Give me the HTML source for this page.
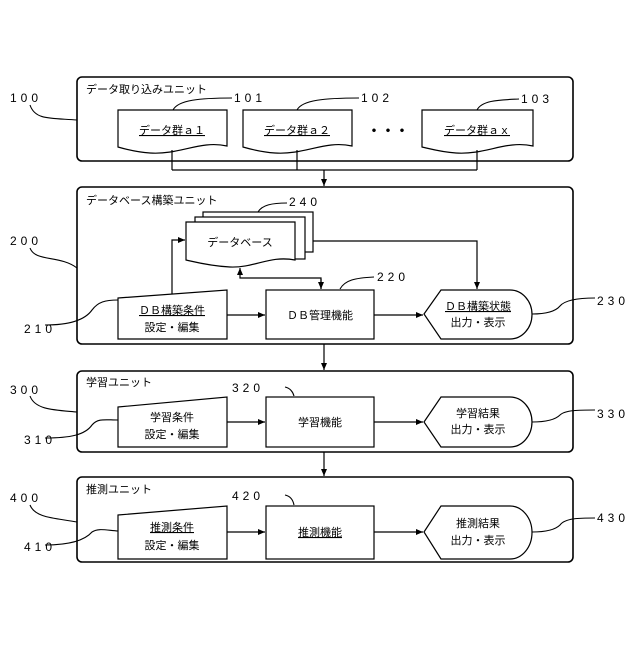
<!DOCTYPE html><html><head><meta charset="utf-8"><style>body{margin:0;background:#fff}svg text{font-family:"Liberation Sans","Noto Sans CJK JP",sans-serif;fill:#000}</style></head><body>
<svg width="640" height="640" viewBox="0 0 640 640" xmlns="http://www.w3.org/2000/svg">
<defs><marker id="a" markerWidth="8" markerHeight="8" refX="7" refY="4" orient="auto" markerUnits="userSpaceOnUse"><path d="M0,1 L7,4 L0,7z" fill="#000"/></marker></defs>
<g fill="none" stroke="#000" stroke-width="1.6">
<rect x="77" y="77" width="496" height="84" rx="5"/>
<rect x="77" y="187" width="496" height="157" rx="5"/>
<rect x="77" y="371" width="496" height="81" rx="5"/>
<rect x="77" y="477" width="496" height="85" rx="5"/>
</g>
<g fill="#fff" stroke="#000" stroke-width="1.2">
<path d="M118,110 H227 V146 C200,140 180,155 150,153 C135,152 125,149 118,147 Z"/>
<path d="M243,110 H352 V146 C325,140 305,155 275,153 C260,152 250,149 243,147 Z"/>
<path d="M422,110 H533 V146 C506,140 486,155 456,153 C441,152 431,149 422,147 Z"/>
</g>
<g fill="none" stroke="#000" stroke-width="1.2">
<path d="M172,150 V170 M297,150 V170 M477,150 V170 M172,170 H477"/>
<path d="M324,170 V186" marker-end="url(#a)"/>
<path d="M324,344 V370" marker-end="url(#a)"/>
<path d="M324,452 V476" marker-end="url(#a)"/>
</g>
<g fill="#fff" stroke="#000" stroke-width="1.2">
<rect x="203" y="212" width="110" height="40"/>
<rect x="195" y="217" width="110" height="42"/>
<path d="M186,222 H295 V260 C270,255 255,268 230,267 C210,266 195,262 186,260 Z"/>
</g>
<g fill="none" stroke="#000" stroke-width="1.2">
<path d="M172,298 V240 H185" marker-end="url(#a)"/>
<path d="M321,289 V278 H240 V268" marker-end="url(#a)"/>
<path d="M321,279 V289" marker-end="url(#a)"/>
<path d="M313,241 H477 V289" marker-end="url(#a)"/>
<path d="M227,315 H265" marker-end="url(#a)"/>
<path d="M374,315 H423" marker-end="url(#a)"/>
<path d="M227,422 H265" marker-end="url(#a)"/>
<path d="M374,422 H423" marker-end="url(#a)"/>
<path d="M227,532 H265" marker-end="url(#a)"/>
<path d="M374,532 H423" marker-end="url(#a)"/>
</g>
<g fill="#fff" stroke="#000" stroke-width="1.2">
<path d="M118,298 L227,290 V339 H118 Z"/>
<rect x="266" y="290" width="108" height="49"/>
<path d="M424,314 L441,290 H510 A22,24.5 0 0 1 510,339 H441 Z"/>
<path d="M118,407 L227,397 V447 H118 Z"/>
<rect x="266" y="397" width="108" height="50"/>
<path d="M424,422 L441,397 H510 A22,25 0 0 1 510,447 H441 Z"/>
<path d="M118,515 L227,506 V559 H118 Z"/>
<rect x="266" y="506" width="108" height="53"/>
<path d="M424,532 L441,506 H510 A22,26.5 0 0 1 510,559 H441 Z"/>
</g>
<g fill="none" stroke="#000" stroke-width="1.1">
<path d="M30,105 C35,120 50,118 77,120"/>
<path d="M30,248 C35,262 60,255 77,268"/>
<path d="M45,325 C70,325 85,320 92,310 C98,302 105,300 118,300"/>
<path d="M30,396 C35,410 55,410 77,412"/>
<path d="M45,438 C70,438 85,435 92,425 C98,418 105,420 118,420"/>
<path d="M30,505 C35,518 55,518 77,522"/>
<path d="M45,545 C70,545 85,540 92,532 C98,528 105,530 118,531"/>
<path d="M173,110 C178,100 200,98 232,98"/>
<path d="M297,110 C302,100 325,98 359,98"/>
<path d="M477,110 C482,100 500,100 519,99"/>
<path d="M258,212 C262,205 272,203 287,203"/>
<path d="M340,289 C345,280 355,278 374,277"/>
<path d="M532,314 C545,314 555,312 560,306 C565,300 580,298 595,298"/>
<path d="M285,387 C290,388 293,392 294,396"/>
<path d="M532,422 C545,422 555,420 560,415 C565,410 580,410 595,410"/>
<path d="M285,495 C290,496 293,500 294,505"/>
<path d="M532,532 C545,532 555,530 560,525 C565,518 580,518 595,518"/>
</g>
<g font-size="11">
<text x="86" y="93">データ取り込みユニット</text>
<text x="86" y="204">データベース構築ユニット</text>
<text x="86" y="386">学習ユニット</text>
<text x="86" y="493">推測ユニット</text>
<text x="172" y="134" text-anchor="middle" text-decoration="underline">データ群ａ１</text>
<text x="297" y="134" text-anchor="middle" text-decoration="underline">データ群ａ２</text>
<text x="477" y="134" text-anchor="middle" text-decoration="underline">データ群ａｘ</text>
<text x="388" y="136" text-anchor="middle" font-size="14" font-weight="bold">・・・</text>
<text x="240" y="246" text-anchor="middle">データベース</text>
<text x="172" y="314" text-anchor="middle" text-decoration="underline">ＤＢ構築条件</text>
<text x="172" y="331" text-anchor="middle">設定・編集</text>
<text x="320" y="319" text-anchor="middle">ＤＢ管理機能</text>
<text x="478" y="310" text-anchor="middle" text-decoration="underline">ＤＢ構築状態</text>
<text x="478" y="326" text-anchor="middle">出力・表示</text>
<text x="172" y="421" text-anchor="middle">学習条件</text>
<text x="172" y="438" text-anchor="middle">設定・編集</text>
<text x="320" y="426" text-anchor="middle">学習機能</text>
<text x="478" y="417" text-anchor="middle">学習結果</text>
<text x="478" y="433" text-anchor="middle">出力・表示</text>
<text x="172" y="531" text-anchor="middle" text-decoration="underline">推測条件</text>
<text x="172" y="549" text-anchor="middle">設定・編集</text>
<text x="320" y="536" text-anchor="middle" text-decoration="underline">推測機能</text>
<text x="478" y="527" text-anchor="middle">推測結果</text>
<text x="478" y="544" text-anchor="middle">出力・表示</text>
</g>
<g font-size="12" letter-spacing="4">
<text x="10" y="102">100</text>
<text x="10" y="245">200</text>
<text x="24" y="333">210</text>
<text x="377" y="281">220</text>
<text x="597" y="305">230</text>
<text x="289" y="206">240</text>
<text x="234" y="102">101</text>
<text x="361" y="102">102</text>
<text x="521" y="103">103</text>
<text x="10" y="394">300</text>
<text x="24" y="444">310</text>
<text x="232" y="392">320</text>
<text x="597" y="418">330</text>
<text x="10" y="502">400</text>
<text x="24" y="551">410</text>
<text x="232" y="500">420</text>
<text x="597" y="522">430</text>
</g>
</svg></body></html>
